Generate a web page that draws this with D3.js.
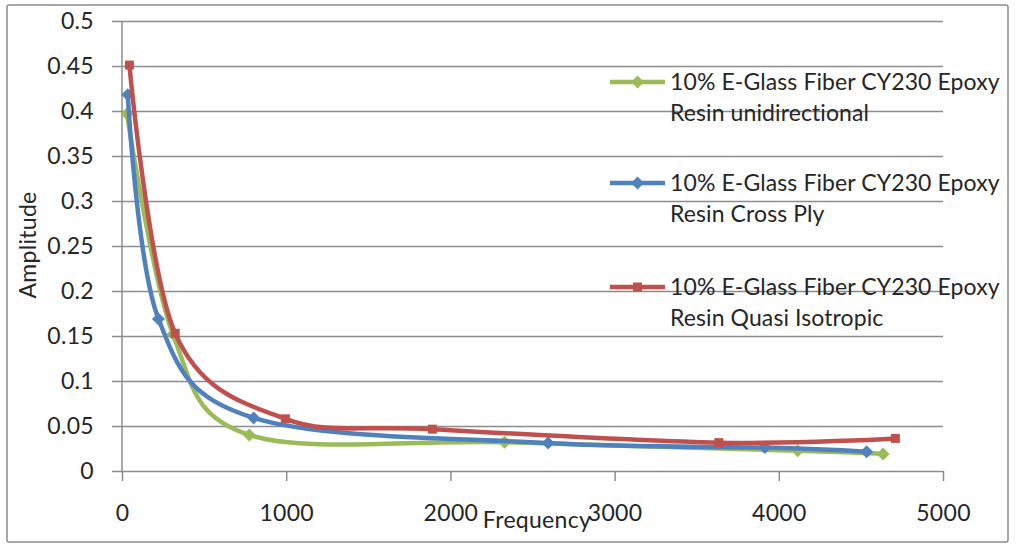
<!DOCTYPE html>
<html lang="en">
<head>
    <meta charset="UTF-8">
    <title>Amplitude vs Frequency</title>
    <style>
        body { margin: 0; background: #fff; }
        text { font-family: Lato, "Open Sans", sans-serif; fill: #262626; letter-spacing: 0.3px; }
        .legend text { letter-spacing: 0.1px; }
        .grid line { stroke: #8c8c8c; stroke-width: 1.5px; }
        .grid path { display: none; }
        .series { fill: none; stroke-width: 4.5px; }
    </style>
</head>
<body>
    <svg width="1016" height="544"></svg>
    <script src="https://d3js.org/d3.v7.min.js"></script>
    <script>
        // values
        var seriesNames = [
            ["10% E-Glass Fiber CY230 Epoxy", "Resin unidirectional"],
            ["10% E-Glass Fiber CY230 Epoxy", "Resin Cross Ply"],
            ["10% E-Glass Fiber CY230 Epoxy", "Resin Quasi Isotropic"]
        ];
        var uniFreq = [30, 310, 775, 2330, 4115, 4635];
        var uniAmp = [0.397, 0.152, 0.040, 0.032, 0.0225, 0.019];
        var crossFreq = [35, 222, 802, 2595, 3915, 4535];
        var crossAmp = [0.418, 0.169, 0.059, 0.031, 0.026, 0.0215];
        var quasiFreq = [45, 324, 995, 1890, 3635, 4710];
        var quasiAmp = [0.451, 0.153, 0.058, 0.0465, 0.0315, 0.0362];
        var xTicks = [0, 1000, 2000, 3000, 4000, 5000];
        var yTickLabels = ["0", "0.05", "0.1", "0.15", "0.2", "0.25", "0.3", "0.35", "0.4", "0.45", "0.5"];
        var colors = ["#9bbb59", "#4f81bd", "#c0504d"];
        var markers = ["diamond", "diamond", "square"];

        var svg = d3.select("svg");
        var plotLeft = 122, plotTop = 21, plotRight = 943, plotBottom = 471;
        var plotW = plotRight - plotLeft;

        svg.append("rect")
            .attr("x", 7).attr("y", 5).attr("width", 1001).attr("height", 537)
            .attr("rx", 2)
            .attr("fill", "#fff").attr("stroke", "#8c8c8c").attr("stroke-width", 1.5);

        var x = d3.scaleLinear().domain([0, 5000]).range([plotLeft, plotRight]);
        var y = d3.scaleLinear().domain([0, 0.5]).range([plotBottom, plotTop]);

        // horizontal gridlines with short ticks to the left
        var yAxis = svg.append("g")
            .attr("class", "grid")
            .attr("transform", "translate(" + plotLeft + ",0)")
            .call(d3.axisLeft(y)
                .tickValues(yTickLabels.map(Number))
                .tickFormat((d, i) => yTickLabels[i])
                .tickSize(-plotW)
                .tickPadding(28));
        yAxis.selectAll("line").attr("x1", -10);
        yAxis.selectAll("text").style("font-size", "23px");

        svg.append("line")
            .attr("x1", plotLeft).attr("x2", plotLeft).attr("y1", plotTop).attr("y2", plotBottom)
            .attr("stroke", "#8c8c8c").attr("stroke-width", 1.5);

        var xAxis = svg.append("g")
            .attr("class", "grid")
            .attr("transform", "translate(0," + plotBottom + ")")
            .call(d3.axisBottom(x).tickValues(xTicks).tickFormat(d3.format("d"))
                .tickSize(10).tickPadding(24));
        xAxis.selectAll("text").style("font-size", "23px");

        // axis titles
        svg.append("text")
            .attr("x", 537).attr("y", 528)
            .attr("text-anchor", "middle")
            .style("font-size", "23px")
            .text("Frequency");
        svg.append("text")
            .attr("transform", "translate(36,245) rotate(-90)")
            .attr("text-anchor", "middle")
            .style("font-size", "23px")
            .text("Amplitude");

        var data = [
            uniFreq.map((f, i) => [f, uniAmp[i]]),
            crossFreq.map((f, i) => [f, crossAmp[i]]),
            quasiFreq.map((f, i) => [f, quasiAmp[i]])
        ];

        var line = d3.line()
            .x(d => x(d[0]))
            .y(d => y(d[1]))
            .curve(d3.curveCardinal.tension(0));

        function drawMarker(g, kind, cx, cy, color) {
            if (kind === "square") {
                g.append("rect")
                    .attr("x", cx - 4.5).attr("y", cy - 4.5)
                    .attr("width", 9).attr("height", 9)
                    .attr("fill", color);
            } else {
                g.append("path")
                    .attr("d", "M" + cx + "," + (cy - 6.5) + "L" + (cx + 6.5) + "," + cy +
                        "L" + cx + "," + (cy + 6.5) + "L" + (cx - 6.5) + "," + cy + "Z")
                    .attr("fill", color);
            }
        }

        data.forEach(function (pts, s) {
            var g = svg.append("g");
            g.append("path")
                .attr("class", "series")
                .attr("d", line(pts))
                .attr("stroke", colors[s]);
            pts.forEach(p => drawMarker(g, markers[s], x(p[0]), y(p[1]), colors[s]));
        });

        // legend
        var legendY = [82, 183, 287];
        seriesNames.forEach(function (names, s) {
            var g = svg.append("g").attr("class", "legend");
            g.append("line")
                .attr("x1", 610).attr("x2", 665)
                .attr("y1", legendY[s]).attr("y2", legendY[s])
                .attr("stroke", colors[s]).attr("stroke-width", 4.5);
            drawMarker(g, markers[s], 637.5, legendY[s], colors[s]);
            names.forEach(function (t, k) {
                g.append("text")
                    .attr("x", 670).attr("y", legendY[s] + k * 31)
                    .attr("dy", "0.35em")
                    .style("font-size", "23px")
                    .text(t);
            });
        });
    </script>
</body>
</html>
